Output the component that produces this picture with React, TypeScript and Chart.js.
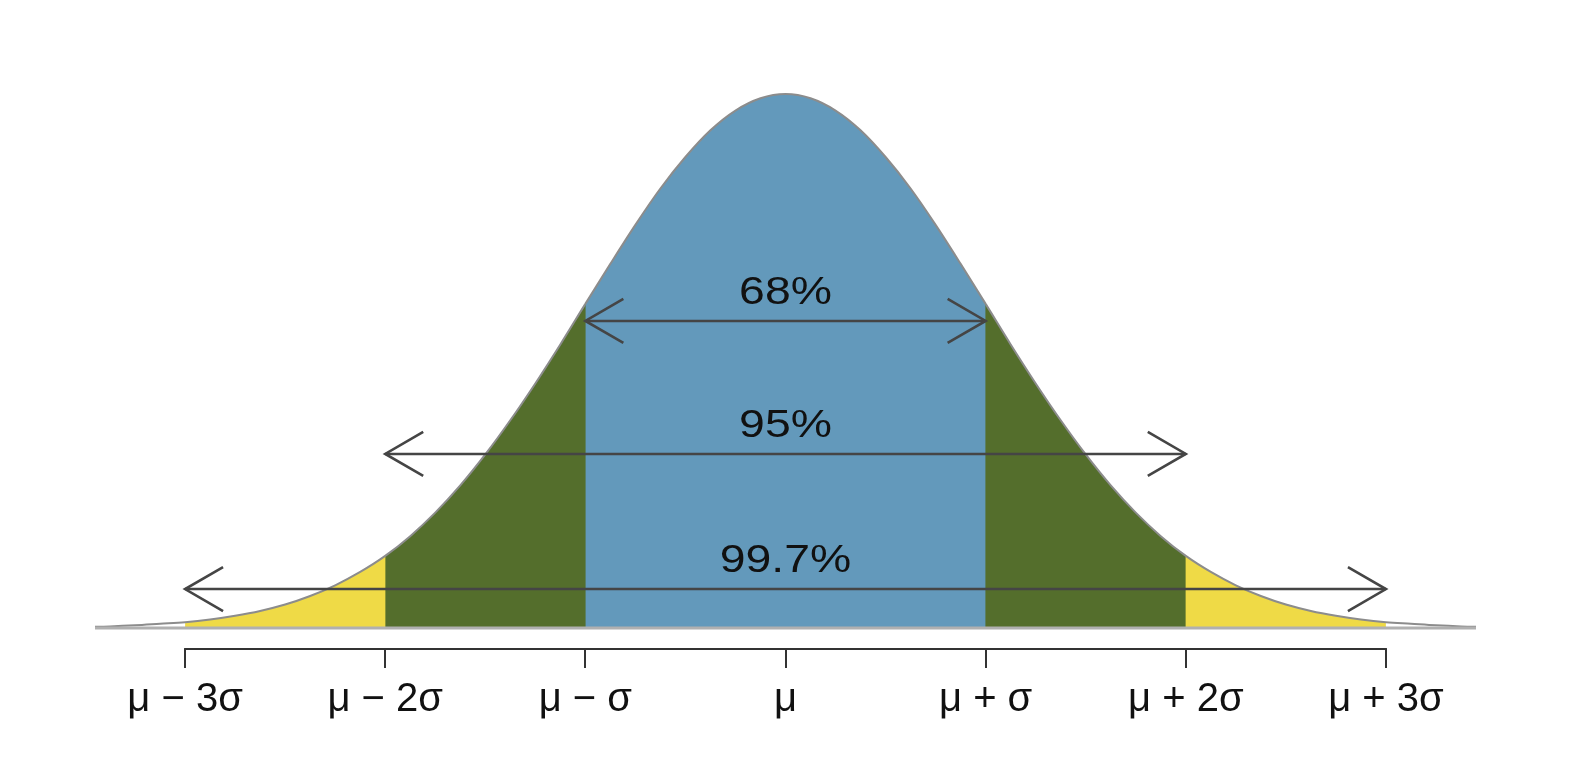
import React, { useEffect, useRef } from "react";
import { Chart, registerables } from "chart.js";
Chart.register(...registerables);

// Curve (relative height, peak = 1) at steps of σ/8
const xs = [
  -3.5, -3.375, -3.25, -3.125, -3, -2.875, -2.75, -2.625, -2.5, -2.375, -2.25, -2.125,
  -2, -1.875, -1.75, -1.625, -1.5, -1.375, -1.25, -1.125, -1, -0.875, -0.75, -0.625,
  -0.5, -0.375, -0.25, -0.125, 0, 0.125, 0.25, 0.375, 0.5, 0.625, 0.75, 0.875,
  1, 1.125, 1.25, 1.375, 1.5, 1.625, 1.75, 1.875, 2, 2.125, 2.25, 2.375,
  2.5, 2.625, 2.75, 2.875, 3, 3.125, 3.25, 3.375, 3.5,
];
const density = [
  0.002, 0.003, 0.005, 0.008, 0.011, 0.016, 0.023, 0.032, 0.044, 0.060, 0.080, 0.105,
  0.135, 0.172, 0.216, 0.267, 0.325, 0.389, 0.458, 0.531, 0.607, 0.682, 0.755, 0.823,
  0.882, 0.932, 0.969, 0.992, 1.0, 0.992, 0.969, 0.932, 0.882, 0.823, 0.755, 0.682,
  0.607, 0.531, 0.458, 0.389, 0.325, 0.267, 0.216, 0.172, 0.135, 0.105, 0.080, 0.060,
  0.044, 0.032, 0.023, 0.016, 0.011, 0.008, 0.005, 0.003, 0.002,
];
const tickValues = [-3, -2, -1, 0, 1, 2, 3];
const tickLabels = ["μ − 3σ", "μ − 2σ", "μ − σ", "μ", "μ + σ", "μ + 2σ", "μ + 3σ"];
const arrowLabels = ["68%", "95%", "99.7%"];
const arrowHalfSpans = [1, 2, 3];
const arrowLevels = [0.575, 0.326, 0.073];
const bandColors = ["#6399bb", "#546e2c", "#efda46"];

const FONT = '"Liberation Sans", Arial, Helvetica, sans-serif';

const annotPlugin = {
  id: "annot",
  afterDatasetsDraw(chart: any) {
    const { ctx, chartArea, scales } = chart;
    const x = scales.x;
    const y = scales.y;
    ctx.save();
    // axis segment
    ctx.strokeStyle = "#333333";
    ctx.lineWidth = 2;
    ctx.lineCap = "square";
    ctx.beginPath();
    ctx.moveTo(x.getPixelForValue(tickValues[0]), chartArea.bottom);
    ctx.lineTo(x.getPixelForValue(tickValues[tickValues.length - 1]), chartArea.bottom);
    ctx.stroke();

    // arrows
    ctx.strokeStyle = "#454545";
    ctx.lineWidth = 2.6;
    ctx.lineCap = "butt";
    ctx.lineJoin = "miter";
    for (let i = 0; i < arrowLabels.length; i++) {
      const yp = y.getPixelForValue(arrowLevels[i]);
      const x1 = x.getPixelForValue(-arrowHalfSpans[i]);
      const x2 = x.getPixelForValue(arrowHalfSpans[i]);
      ctx.beginPath();
      ctx.moveTo(x1, yp);
      ctx.lineTo(x2, yp);
      ctx.stroke();
      ctx.beginPath();
      ctx.moveTo(x1 + 38, yp - 22);
      ctx.lineTo(x1, yp);
      ctx.lineTo(x1 + 38, yp + 22);
      ctx.stroke();
      ctx.beginPath();
      ctx.moveTo(x2 - 38, yp - 22);
      ctx.lineTo(x2, yp);
      ctx.lineTo(x2 - 38, yp + 22);
      ctx.stroke();

      ctx.save();
      ctx.translate((x1 + x2) / 2, yp - 17);
      ctx.scale(1.22, 1);
      ctx.fillStyle = "#111111";
      ctx.font = `38px ${FONT}`;
      ctx.textAlign = "center";
      ctx.textBaseline = "alphabetic";
      ctx.fillText(arrowLabels[i], 0, 0);
      ctx.restore();
    }
    ctx.restore();
  },
};

function band(limit: number, color: string) {
  return (c: any) => {
    const m = Math.abs((c.p0.parsed.x + c.p1.parsed.x) / 2);
    return m < limit ? color : "rgba(0,0,0,0)";
  };
}

export default function App() {
  const ref = useRef<HTMLCanvasElement | null>(null);
  useEffect(() => {
    if (!ref.current) return;
    const curve = xs.map((v, i) => ({ x: v, y: density[i] }));
    const common = {
      pointRadius: 0,
      cubicInterpolationMode: "monotone",
      fill: "origin",
      backgroundColor: "rgba(0,0,0,0)",
    };
    const chart = new Chart(ref.current, {
      type: "line",
      data: {
        datasets: [
          {
            ...common,
            data: curve,
            borderWidth: 0,
            borderColor: "rgba(0,0,0,0)",
            order: 5,
            segment: { backgroundColor: band(arrowHalfSpans[2], bandColors[2]) },
          } as any,
          {
            ...common,
            data: curve,
            borderWidth: 0,
            borderColor: "rgba(0,0,0,0)",
            order: 4,
            segment: { backgroundColor: band(arrowHalfSpans[1], bandColors[1]) },
          } as any,
          {
            ...common,
            data: curve,
            borderColor: "#8c8c8c",
            borderWidth: 2,
            order: 3,
            segment: { backgroundColor: band(arrowHalfSpans[0], bandColors[0]) },
          } as any,
          {
            data: [
              { x: -3.45, y: 0 },
              { x: 3.45, y: 0 },
            ],
            borderColor: "#b0b0b0",
            borderWidth: 3,
            pointRadius: 0,
            fill: false,
            order: 1,
          },
        ],
      },
      options: {
        animation: false,
        responsive: false,
        devicePixelRatio: 1,
        layout: { padding: { left: 87, right: 100, top: 59.3, bottom: 0 } },
        plugins: { legend: { display: false }, tooltip: { enabled: false } },
        scales: {
          x: {
            type: "linear",
            min: -3.45,
            max: 3.45,
            afterBuildTicks: (s: any) => {
              s.ticks = tickValues.map((v) => ({ value: v }));
            },
            afterFit: (s: any) => {
              s.height = 117;
            },
            grid: {
              display: true,
              drawOnChartArea: false,
              drawTicks: true,
              tickLength: 19,
              color: "#333333",
              lineWidth: 2,
            },
            border: { display: false },
            ticks: {
              callback: (v: any) => tickLabels[tickValues.indexOf(Number(v))],
              font: { family: FONT, size: 40 },
              color: "#111111",
              padding: 8,
              maxRotation: 0,
              autoSkip: false,
            },
          },
          y: { display: false, min: -0.0393, max: 1.05 },
        },
      },
      plugins: [annotPlugin],
    });
    return () => chart.destroy();
  }, []);
  return (
    <div style={{ width: 1568, height: 758, background: "#ffffff" }}>
      <canvas ref={ref} width={1568} height={758} style={{ display: "block" }} />
    </div>
  );
}
